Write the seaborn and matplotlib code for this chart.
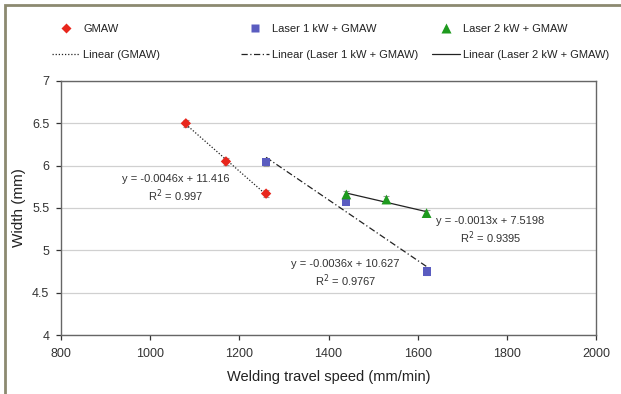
import numpy as np
import pandas as pd
import matplotlib
matplotlib.use("Agg")
import matplotlib.pyplot as plt
import seaborn as sns
from matplotlib.lines import Line2D
from matplotlib.patches import Rectangle

series = ["GMAW", "Laser 1 kW + GMAW", "Laser 2 kW + GMAW"]
gmaw_speed = [1080, 1170, 1260]
gmaw_width = [6.50, 6.05, 5.67]
l1_speed = [1260, 1440, 1620]
l1_width = [6.04, 5.57, 4.75]
l2_speed = [1440, 1530, 1620]
l2_width = [5.66, 5.60, 5.44]
err = 0.04
equations = ["y = -0.0046x + 11.416\nR$^2$ = 0.997",
             "y = -0.0036x + 10.627\nR$^2$ = 0.9767",
             "y = -0.0013x + 7.5198\nR$^2$ = 0.9395"]
eq_pos = [(1057, 5.725), (1438, 4.724), (1763, 5.228)]
xticks = [800, 1000, 1200, 1400, 1600, 1800, 2000]
yticks = [4, 4.5, 5, 5.5, 6, 6.5, 7]

sns.set_style("white")
plt.rcParams['font.family'] = ['Liberation Sans', 'DejaVu Sans']

df = pd.DataFrame({
    "speed": gmaw_speed + l1_speed + l2_speed,
    "width": gmaw_width + l1_width + l2_width,
    "series": [series[0]] * 3 + [series[1]] * 3 + [series[2]] * 3,
})

colors = {series[0]: "#e8261c", series[1]: "#5a5cc0", series[2]: "#1e9a1e"}
markers = {series[0]: "D", series[1]: "s", series[2]: "^"}
msizes = {series[0]: 28, series[1]: 34, series[2]: 50}
lstyles = {series[0]: (0, (1, 1.5)), series[1]: (0, (5, 2, 1, 2)), series[2]: "-"}

fig = plt.figure(figsize=(6.21, 3.94), dpi=100)
ax = fig.add_axes([61 / 621, 1 - 335 / 394, (596 - 61) / 621, (335 - 81) / 394])

for s in series:
    sub = df[df.series == s]
    ax.errorbar(sub.speed, sub.width, yerr=err, fmt="none", ecolor="#999999",
                elinewidth=0.8, capsize=2, capthick=0.8, zorder=2)
    slope, intercept = np.polyfit(sub.speed, sub.width, 1)
    xs = np.array([sub.speed.min(), sub.speed.max()])
    ax.plot(xs, slope * xs + intercept, color="#222222", lw=0.9,
            linestyle=lstyles[s], zorder=3)
    sns.scatterplot(data=sub, x="speed", y="width", color=colors[s],
                    marker=markers[s], s=msizes[s], edgecolor="none",
                    legend=False, ax=ax, zorder=4)

ax.set_xlim(800, 2000)
ax.set_ylim(4, 7)
ax.set_xticks(xticks)
ax.set_yticks(yticks)
ax.set_yticklabels([f"{t:g}" for t in yticks])
ax.yaxis.grid(True, color="#d0d0d0", lw=0.9)
ax.set_axisbelow(True)
for sp in ax.spines.values():
    sp.set_color("#666666")
    sp.set_linewidth(1.0)
ax.tick_params(axis="both", labelsize=9, colors="#333333", length=3.5,
               width=0.9, direction="out", left=True, bottom=True, pad=6)
ax.tick_params(axis="y", pad=5)
ax.set_xlabel("Welding travel speed (mm/min)", fontsize=10.5, color="#222222", labelpad=7)
ax.set_ylabel("Width (mm)", fontsize=11, color="#222222", labelpad=4)

for eq, (ex, ey) in zip(equations, eq_pos):
    ax.text(ex, ey, eq, fontsize=8, ha="center", va="center",
            color="#333333", linespacing=1.25)

lefts = [52, 241, 432]
for s, lx in zip(series, lefts):
    h = [Line2D([], [], marker=markers[s], color=colors[s], linestyle="none",
                markersize=5.5 if s != series[2] else 6.5, markeredgecolor="none"),
         Line2D([], [], color="#222222", lw=0.9, linestyle=lstyles[s])]
    leg = fig.legend(h, [s, f"Linear ({s})"], loc="upper left",
                     bbox_to_anchor=(lx / 621, 1 - 24 / 394), frameon=False,
                     fontsize=8, handlelength=2.5, handletextpad=0.3,
                     labelspacing=1.4, borderpad=0, borderaxespad=0,
                     labelcolor="#222222")

fig.patches.append(Rectangle((5 / 621, -0.05), 1.2, 1 - 5 / 394 + 0.05,
                             transform=fig.transFigure, fill=False,
                             edgecolor="#8c8a70", lw=2))

fig.savefig("out.png", dpi=100)
